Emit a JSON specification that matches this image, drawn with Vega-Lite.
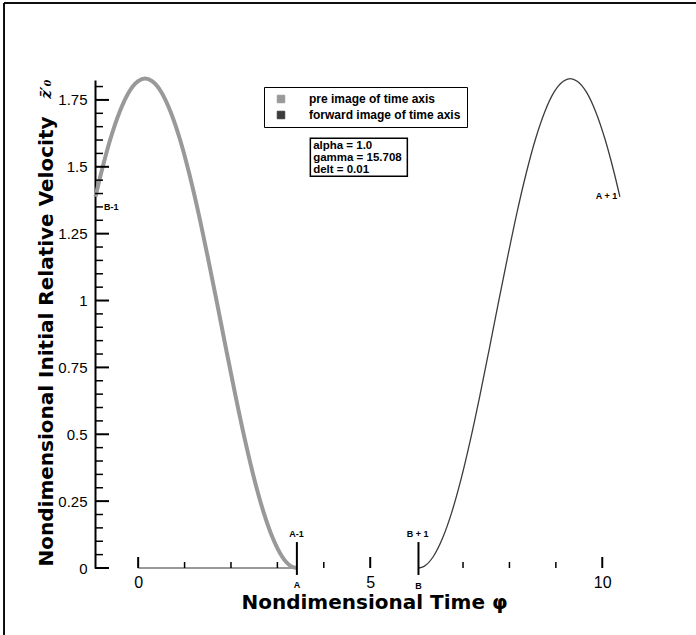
{
  "$schema": "https://vega.github.io/schema/vega-lite/v6.json",
  "width": 530,
  "height": 488,
  "autosize": "none",
  "padding": {"left": 95, "top": 80, "right": 71, "bottom": 67},
  "background": "white",
  "config": {"view": {"stroke": null}, "font": "Liberation Sans", "axis": {"grid": false}},
  "datasets": {
    "curves": [
      {"phi": -0.92, "v": 1.388, "series": "pre image of time axis"},
      {"phi": -0.8, "v": 1.475, "series": "pre image of time axis"},
      {"phi": -0.6, "v": 1.603, "series": "pre image of time axis"},
      {"phi": -0.4, "v": 1.705, "series": "pre image of time axis"},
      {"phi": -0.2, "v": 1.779, "series": "pre image of time axis"},
      {"phi": 0.0, "v": 1.82, "series": "pre image of time axis"},
      {"phi": 0.15, "v": 1.83, "series": "pre image of time axis"},
      {"phi": 0.3, "v": 1.82, "series": "pre image of time axis"},
      {"phi": 0.5, "v": 1.779, "series": "pre image of time axis"},
      {"phi": 0.7, "v": 1.705, "series": "pre image of time axis"},
      {"phi": 0.9, "v": 1.603, "series": "pre image of time axis"},
      {"phi": 1.1, "v": 1.475, "series": "pre image of time axis"},
      {"phi": 1.3, "v": 1.327, "series": "pre image of time axis"},
      {"phi": 1.5, "v": 1.162, "series": "pre image of time axis"},
      {"phi": 1.7, "v": 0.99, "series": "pre image of time axis"},
      {"phi": 1.9, "v": 0.814, "series": "pre image of time axis"},
      {"phi": 2.1, "v": 0.642, "series": "pre image of time axis"},
      {"phi": 2.3, "v": 0.48, "series": "pre image of time axis"},
      {"phi": 2.5, "v": 0.334, "series": "pre image of time axis"},
      {"phi": 2.7, "v": 0.21, "series": "pre image of time axis"},
      {"phi": 2.9, "v": 0.112, "series": "pre image of time axis"},
      {"phi": 3.1, "v": 0.043, "series": "pre image of time axis"},
      {"phi": 3.3, "v": 0.006, "series": "pre image of time axis"},
      {"phi": 3.42, "v": 0.0, "series": "pre image of time axis"},
      {"phi": 6.04, "v": 0.0, "series": "forward image of time axis"},
      {"phi": 6.16, "v": 0.006, "series": "forward image of time axis"},
      {"phi": 6.36, "v": 0.043, "series": "forward image of time axis"},
      {"phi": 6.56, "v": 0.112, "series": "forward image of time axis"},
      {"phi": 6.76, "v": 0.21, "series": "forward image of time axis"},
      {"phi": 6.96, "v": 0.334, "series": "forward image of time axis"},
      {"phi": 7.16, "v": 0.48, "series": "forward image of time axis"},
      {"phi": 7.36, "v": 0.642, "series": "forward image of time axis"},
      {"phi": 7.56, "v": 0.814, "series": "forward image of time axis"},
      {"phi": 7.76, "v": 0.99, "series": "forward image of time axis"},
      {"phi": 7.96, "v": 1.162, "series": "forward image of time axis"},
      {"phi": 8.16, "v": 1.327, "series": "forward image of time axis"},
      {"phi": 8.36, "v": 1.475, "series": "forward image of time axis"},
      {"phi": 8.56, "v": 1.603, "series": "forward image of time axis"},
      {"phi": 8.76, "v": 1.705, "series": "forward image of time axis"},
      {"phi": 8.96, "v": 1.779, "series": "forward image of time axis"},
      {"phi": 9.16, "v": 1.82, "series": "forward image of time axis"},
      {"phi": 9.31, "v": 1.83, "series": "forward image of time axis"},
      {"phi": 9.46, "v": 1.82, "series": "forward image of time axis"},
      {"phi": 9.66, "v": 1.779, "series": "forward image of time axis"},
      {"phi": 9.86, "v": 1.705, "series": "forward image of time axis"},
      {"phi": 10.06, "v": 1.603, "series": "forward image of time axis"},
      {"phi": 10.26, "v": 1.475, "series": "forward image of time axis"},
      {"phi": 10.38, "v": 1.388, "series": "forward image of time axis"}
    ],
    "base": [{"phi": 0, "v": 0}, {"phi": 3.42, "v": 0}],
    "yticks": [
      {"v": 0, "kind": "major"}, {"v": 0.25, "kind": "major"}, {"v": 0.5, "kind": "major"}, {"v": 0.75, "kind": "major"},
      {"v": 1, "kind": "major"}, {"v": 1.25, "kind": "major"}, {"v": 1.5, "kind": "major"}, {"v": 1.75, "kind": "major"},
      {"v": 0.05, "kind": "minor"}, {"v": 0.1, "kind": "minor"}, {"v": 0.15, "kind": "minor"}, {"v": 0.2, "kind": "minor"},
      {"v": 0.3, "kind": "minor"}, {"v": 0.35, "kind": "minor"}, {"v": 0.4, "kind": "minor"}, {"v": 0.45, "kind": "minor"},
      {"v": 0.55, "kind": "minor"}, {"v": 0.6, "kind": "minor"}, {"v": 0.65, "kind": "minor"}, {"v": 0.7, "kind": "minor"},
      {"v": 0.8, "kind": "minor"}, {"v": 0.85, "kind": "minor"}, {"v": 0.9, "kind": "minor"}, {"v": 0.95, "kind": "minor"},
      {"v": 1.05, "kind": "minor"}, {"v": 1.1, "kind": "minor"}, {"v": 1.15, "kind": "minor"}, {"v": 1.2, "kind": "minor"},
      {"v": 1.3, "kind": "minor"}, {"v": 1.35, "kind": "minor"}, {"v": 1.4, "kind": "minor"}, {"v": 1.45, "kind": "minor"},
      {"v": 1.55, "kind": "minor"}, {"v": 1.6, "kind": "minor"}, {"v": 1.65, "kind": "minor"}, {"v": 1.7, "kind": "minor"},
      {"v": 1.8, "kind": "minor"}
    ],
    "xticks": [
      {"phi": 0, "kind": "major"}, {"phi": 5, "kind": "major"}, {"phi": 10, "kind": "major"},
      {"phi": 1, "kind": "minor"}, {"phi": 2, "kind": "minor"}, {"phi": 3, "kind": "minor"}, {"phi": 4, "kind": "minor"},
      {"phi": 7, "kind": "minor"}, {"phi": 8, "kind": "minor"}, {"phi": 9, "kind": "minor"}
    ],
    "points": [
      {"name": "A", "phi": 3.42, "lo": -0.026, "hi": 0.097},
      {"name": "B", "phi": 6.04, "lo": -0.026, "hi": 0.097}
    ],
    "labels": [
      {"phi": 3.41, "v": 0.127, "text": "A-1"},
      {"phi": 3.42, "v": -0.064, "text": "A"},
      {"phi": 6.02, "v": 0.127, "text": "B + 1"},
      {"phi": 6.04, "v": -0.066, "text": "B"},
      {"phi": -0.58, "v": 1.351, "text": "B-1"},
      {"phi": 10.09, "v": 1.391, "text": "A + 1"}
    ],
    "params": [{"phi": 3.77, "v": 1.599, "text": ["alpha = 1.0", "gamma = 15.708", "delt = 0.01"]}],
    "symbol": [{"phi": -1.98, "v": 1.79, "text": "z̄′₀"}]
  },
  "layer": [
    {
      "data": {"name": "base"},
      "mark": {"type": "rule", "color": "black", "strokeWidth": 1.5},
      "encoding": {
        "x": {"datum": -2.89, "type": "quantitative", "scale": {"domain": [-0.93, 10.49], "nice": false, "zero": false}},
        "x2": {"datum": 13},
        "y": {"datum": 2.112, "type": "quantitative", "scale": {"domain": [0, 1.8245], "nice": false, "zero": false}}
      }
    },
    {
      "data": {"name": "base"},
      "mark": {"type": "rule", "color": "black", "strokeWidth": 1.5},
      "encoding": {
        "x": {"datum": -2.89, "type": "quantitative", "scale": {"domain": [-0.93, 10.49], "nice": false, "zero": false}},
        "y": {"datum": 2.112, "type": "quantitative", "scale": {"domain": [0, 1.8245], "nice": false, "zero": false}},
        "y2": {"datum": -0.4}
      }
    },
    {
      "data": {"name": "base"},
      "mark": {"type": "line", "color": "#999999", "strokeWidth": 2},
      "encoding": {
        "x": {"field": "phi", "type": "quantitative", "scale": {"domain": [-0.93, 10.49], "nice": false, "zero": false}},
        "y": {"field": "v", "type": "quantitative", "scale": {"domain": [0, 1.8245], "nice": false, "zero": false}}
      }
    },
    {
      "data": {"name": "curves"},
      "transform": [{"filter": "datum.series === 'pre image of time axis'"}],
      "mark": {"type": "line", "strokeWidth": 4, "interpolate": "monotone"},
      "encoding": {
        "x": {"field": "phi", "type": "quantitative", "scale": {"domain": [-0.93, 10.49], "nice": false, "zero": false},
          "axis": {"title": "Nondimensional Time    φ", "values": [0, 5, 10], "domain": false, "ticks": false,
            "labelFontSize": 16, "labelPadding": 6, "labelColor": "black", "labelFont": "Liberation Sans",
            "titleFont": "DejaVu Sans", "titleFontSize": 20, "titleFontWeight": "bold", "titleColor": "black",
            "titleX": 279, "titleY": 40, "titleBaseline": "alphabetic", "titleAlign": "center"}},
        "y": {"field": "v", "type": "quantitative", "scale": {"domain": [0, 1.8245], "nice": false, "zero": false},
          "axis": {"title": "Nondimensional Initial Relative Velocity", "values": [0, 0.25, 0.5, 0.75, 1, 1.25, 1.5, 1.75],
            "labelExpr": "'' + datum.value", "domain": true, "domainColor": "black", "domainWidth": 2, "ticks": false,
            "labelFontSize": 15, "labelPadding": 8, "labelColor": "black", "labelFont": "Liberation Sans",
            "titleFont": "DejaVu Sans", "titleFontSize": 20, "titleFontWeight": "bold", "titleColor": "black",
            "titleX": -43, "titleY": 261, "titleAngle": 270, "titleBaseline": "alphabetic", "titleAlign": "center"}},
        "color": {"field": "series", "type": "nominal",
          "scale": {"domain": ["pre image of time axis", "forward image of time axis"], "range": ["#999999", "#3c3c3c"]},
          "legend": {"orient": "none", "legendX": 169, "legendY": 7, "title": null, "symbolType": "square", "symbolSize": 56,
            "strokeColor": "black", "padding": 6, "labelFontSize": 12, "labelFontWeight": "bold", "labelFont": "Liberation Sans",
            "labelColor": "black", "labelOffset": 22, "rowPadding": 4, "symbolOffset": 5,
            "encode": {"symbols": {"update": {"fill": {"scale": "color", "field": "value"}, "stroke": {"value": "black"}, "strokeWidth": {"value": 1}, "opacity": {"value": 1}}}}}}
      }
    },
    {
      "data": {"name": "curves"},
      "transform": [{"filter": "datum.series === 'forward image of time axis'"}],
      "mark": {"type": "line", "strokeWidth": 1.3, "interpolate": "monotone"},
      "encoding": {
        "x": {"field": "phi", "type": "quantitative", "scale": {"domain": [-0.93, 10.49], "nice": false, "zero": false}},
        "y": {"field": "v", "type": "quantitative", "scale": {"domain": [0, 1.8245], "nice": false, "zero": false}},
        "color": {"field": "series", "type": "nominal"}
      }
    },
    {
      "data": {"name": "yticks"},
      "mark": {"type": "rule", "color": "black", "strokeWidth": 2, "x2Offset": 14},
      "transform": [{"filter": "datum.kind === 'major'"}],
      "encoding": {
        "x": {"datum": -0.93, "type": "quantitative", "scale": {"domain": [-0.93, 10.49], "nice": false, "zero": false}},
        "x2": {"datum": -0.93},
        "y": {"field": "v", "type": "quantitative", "scale": {"domain": [0, 1.8245], "nice": false, "zero": false}}
      }
    },
    {
      "data": {"name": "yticks"},
      "mark": {"type": "rule", "color": "black", "strokeWidth": 1.5, "x2Offset": 8},
      "transform": [{"filter": "datum.kind === 'minor'"}],
      "encoding": {
        "x": {"datum": -0.93, "type": "quantitative", "scale": {"domain": [-0.93, 10.49], "nice": false, "zero": false}},
        "x2": {"datum": -0.93},
        "y": {"field": "v", "type": "quantitative", "scale": {"domain": [0, 1.8245], "nice": false, "zero": false}}
      }
    },
    {
      "data": {"name": "xticks"},
      "mark": {"type": "rule", "color": "black", "strokeWidth": 2, "y2Offset": -11},
      "transform": [{"filter": "datum.kind === 'major'"}],
      "encoding": {
        "x": {"field": "phi", "type": "quantitative", "scale": {"domain": [-0.93, 10.49], "nice": false, "zero": false}},
        "y": {"datum": 0, "type": "quantitative", "scale": {"domain": [0, 1.8245], "nice": false, "zero": false}},
        "y2": {"datum": 0}
      }
    },
    {
      "data": {"name": "xticks"},
      "mark": {"type": "rule", "color": "black", "strokeWidth": 1.5, "y2Offset": -6},
      "transform": [{"filter": "datum.kind === 'minor'"}],
      "encoding": {
        "x": {"field": "phi", "type": "quantitative", "scale": {"domain": [-0.93, 10.49], "nice": false, "zero": false}},
        "y": {"datum": 0, "type": "quantitative", "scale": {"domain": [0, 1.8245], "nice": false, "zero": false}},
        "y2": {"datum": 0}
      }
    },
    {
      "data": {"name": "points"},
      "mark": {"type": "rule", "color": "black", "strokeWidth": 2},
      "encoding": {
        "x": {"field": "phi", "type": "quantitative", "scale": {"domain": [-0.93, 10.49], "nice": false, "zero": false}},
        "y": {"field": "lo", "type": "quantitative", "scale": {"domain": [0, 1.8245], "nice": false, "zero": false}},
        "y2": {"field": "hi"}
      }
    },
    {
      "data": {"name": "labels"},
      "mark": {"type": "text", "font": "Liberation Sans", "fontWeight": "bold", "fontSize": 9, "color": "black", "align": "center", "baseline": "middle"},
      "encoding": {
        "x": {"field": "phi", "type": "quantitative", "scale": {"domain": [-0.93, 10.49], "nice": false, "zero": false}},
        "y": {"field": "v", "type": "quantitative", "scale": {"domain": [0, 1.8245], "nice": false, "zero": false}},
        "text": {"field": "text"}
      }
    },
    {
      "data": {"name": "params"},
      "mark": {"type": "rect", "fill": "white", "stroke": "black", "strokeWidth": 1.5},
      "encoding": {
        "x": {"datum": 3.71, "type": "quantitative", "scale": {"domain": [-0.93, 10.49], "nice": false, "zero": false}},
        "x2": {"datum": 5.8},
        "y": {"datum": 1.607, "type": "quantitative", "scale": {"domain": [0, 1.8245], "nice": false, "zero": false}},
        "y2": {"datum": 1.465}
      }
    },
    {
      "data": {"name": "params"},
      "mark": {"type": "text", "font": "Liberation Sans", "fontWeight": "bold", "fontSize": 11.5, "color": "black", "align": "left", "baseline": "top", "lineHeight": 12},
      "encoding": {
        "x": {"field": "phi", "type": "quantitative", "scale": {"domain": [-0.93, 10.49], "nice": false, "zero": false}},
        "y": {"field": "v", "type": "quantitative", "scale": {"domain": [0, 1.8245], "nice": false, "zero": false}},
        "text": {"field": "text"}
      }
    },
    {
      "data": {"name": "symbol"},
      "mark": {"type": "text", "font": "DejaVu Serif", "fontStyle": "italic", "fontWeight": "bold", "fontSize": 15, "color": "black", "angle": 270, "align": "center", "baseline": "middle"},
      "encoding": {
        "x": {"field": "phi", "type": "quantitative", "scale": {"domain": [-0.93, 10.49], "nice": false, "zero": false}},
        "y": {"field": "v", "type": "quantitative", "scale": {"domain": [0, 1.8245], "nice": false, "zero": false}},
        "text": {"field": "text"}
      }
    }
  ]
}
